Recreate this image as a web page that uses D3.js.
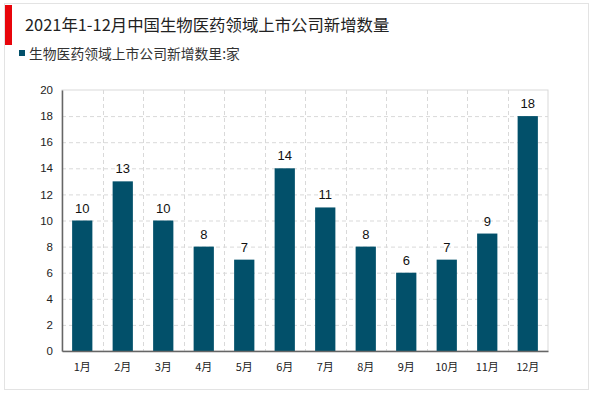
<!DOCTYPE html>
<html><head><meta charset="utf-8">
<script src="https://cdn.jsdelivr.net/npm/d3@7"></script>
<style>body{margin:0;background:#fff;}svg{display:block;font-family:"Liberation Sans",Arial,"Noto Sans CJK SC",sans-serif;}</style>
</head><body>
<svg id="c" width="600" height="393"></svg>
<script>
const categories = ["1月","2月","3月","4月","5月","6月","7月","8月","9月","10月","11月","12月"];
const values = [10,13,10,8,7,14,11,8,6,7,9,18];
const yTicks = [0,2,4,6,8,10,12,14,16,18,20];
const title = "2021年1-12月中国生物医药领域上市公司新增数量";
const seriesName = "生物医药领域上市公司新增数里:家";

const svg = d3.select("#c");
const color = "#02506a";
svg.append("rect").attr("x",4.5).attr("y",3.5).attr("width",584).attr("height",386)
  .attr("fill","none").attr("stroke","#e3e3e3");
svg.append("rect").attr("x",5).attr("y",5).attr("width",7).attr("height",40).attr("fill","#e8050b");
svg.append("text").attr("x",25).attr("y",31).attr("font-size",16.4).attr("fill","#222")
  .attr("font-family","'Noto Sans CJK SC','Liberation Sans',sans-serif").text(title);
svg.append("rect").attr("x",19).attr("y",50).attr("width",6).attr("height",6).attr("fill",color);
svg.append("text").attr("x",29).attr("y",58.5).attr("font-size",13.8).attr("fill","#333")
  .attr("font-family","'Noto Sans CJK SC','Liberation Sans',sans-serif").text(seriesName);

const L=62,R=548,T=90,B=351;
const x = d3.scaleBand().domain(categories).range([L,R]).paddingInner(0).paddingOuter(0);
const y = d3.scaleLinear().domain([0,20]).range([B,T]);

svg.append("rect").attr("x",L).attr("y",T).attr("width",R-L).attr("height",B-T)
  .attr("fill","none").attr("stroke","#d9d9d9");
svg.append("g").selectAll("line").data(yTicks.filter(d=>d>0&&d<20)).join("line")
  .attr("x1",L).attr("x2",R).attr("y1",d=>y(d)+0.5).attr("y2",d=>y(d)+0.5)
  .attr("stroke","#d9d9d9").attr("stroke-dasharray","4,3");
svg.append("g").selectAll("line").data(categories.slice(1)).join("line")
  .attr("x1",d=>Math.round(x(d))+0.5).attr("x2",d=>Math.round(x(d))+0.5).attr("y1",T).attr("y2",B)
  .attr("stroke","#d9d9d9").attr("stroke-dasharray","4,3");

const bw = x.bandwidth()*0.5;
svg.append("g").selectAll("rect").data(values).join("rect")
  .attr("x",(d,i)=>x(categories[i])+(x.bandwidth()-bw)/2).attr("width",bw)
  .attr("y",d=>y(d)).attr("height",d=>B-y(d)).attr("fill",color);
svg.append("g").selectAll("text").data(values).join("text")
  .attr("x",(d,i)=>x(categories[i])+x.bandwidth()/2).attr("y",d=>y(d)-8)
  .attr("text-anchor","middle").attr("font-size",13).attr("fill","#111").text(d=>d);

const yAxis = d3.axisLeft(y).tickValues(yTicks).tickSize(0).tickPadding(9);
const gy = svg.append("g").attr("transform",`translate(${L},0)`).call(yAxis);
gy.select(".domain").attr("stroke","#666").attr("stroke-width",1.5);
gy.selectAll("text").attr("font-size",11.5).attr("fill","#222").attr("font-family","'Liberation Sans',Arial,sans-serif");
const xAxis = d3.axisBottom(x).tickSize(0).tickPadding(12);
const gx = svg.append("g").attr("transform",`translate(0,${B})`).call(xAxis);
gx.select(".domain").attr("stroke","#666").attr("stroke-width",1.5);
gx.selectAll("text").attr("font-size",11).attr("fill","#222").attr("font-family","'Noto Sans CJK SC','Liberation Sans',sans-serif");
</script>
</body></html>
